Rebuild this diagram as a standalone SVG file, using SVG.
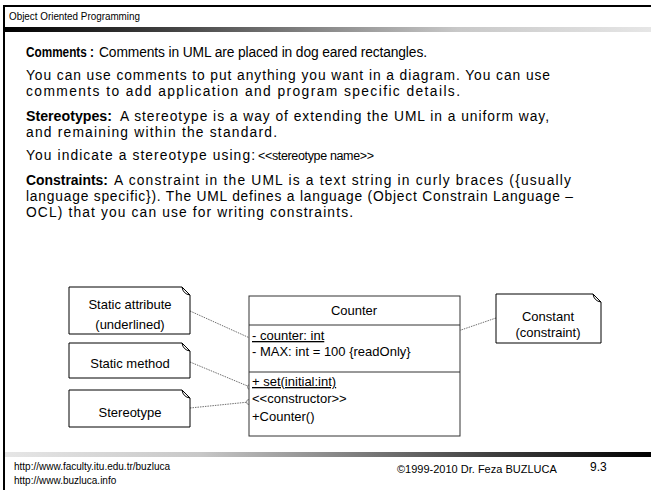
<svg xmlns="http://www.w3.org/2000/svg" width="651" height="490" viewBox="0 0 651 490">
  <defs>
    <linearGradient id="barTop" x1="0" y1="0" x2="1" y2="0">
      <stop offset="0" stop-color="#000000"/>
      <stop offset="0.25" stop-color="#404040"/>
      <stop offset="0.7" stop-color="#c8c8c8"/>
      <stop offset="1" stop-color="#e6e6e6"/>
    </linearGradient>
    <linearGradient id="barBottom" x1="0" y1="0" x2="1" y2="0">
      <stop offset="0" stop-color="#e6e6e6"/>
      <stop offset="0.3" stop-color="#c8c8c8"/>
      <stop offset="0.75" stop-color="#404040"/>
      <stop offset="1" stop-color="#000000"/>
    </linearGradient>
  </defs>
  <style>
    .body { font-family: "Comic Sans MS", "Liberation Sans", sans-serif; font-size: 13.8px; fill: #000; }
    .bold { font-weight: bold; }
    .sans { font-family: "Liberation Sans", Arial, sans-serif; fill: #000; }
    .uml { font-family: "Liberation Sans", Arial, sans-serif; font-size: 13px; fill: #000; }
    .note { fill: #ffffff; stroke: #000; stroke-width: 1; }
    .ear { fill: none; stroke: #000; stroke-width: 1; }
    .cls { fill: #ffffff; stroke: #333; stroke-width: 1; }
    .link { stroke: #707070; stroke-width: 1; stroke-dasharray: 1.5 1; fill: none; }
    .anchor { fill: #ffffff; stroke: #707070; stroke-width: 0.8; }
  </style>

  <rect x="0" y="0" width="651" height="490" fill="#ffffff"/>

  <!-- slide frame -->
  <rect x="4" y="5" width="647" height="2" fill="#000"/>
  <rect x="3" y="5" width="2" height="485" fill="#000"/>
  <rect x="5" y="27" width="646" height="5" fill="url(#barTop)"/>
  <rect x="5" y="452" width="646" height="5" fill="url(#barBottom)"/>
  <text class="sans" x="9" y="20" font-size="10.5" textLength="131" lengthAdjust="spacingAndGlyphs">Object Oriented Programming</text>

  <!-- slide text -->
  <text class="body bold" x="26" y="57" textLength="68" lengthAdjust="spacingAndGlyphs">Comments :</text>
  <text class="body" x="99" y="57" textLength="328" lengthAdjust="spacing">Comments in UML are placed in dog eared rectangles.</text>
  <text class="body" x="26" y="80" textLength="524" lengthAdjust="spacing">You can use comments to put anything you want in a diagram. You can use</text>
  <text class="body" x="26" y="96" textLength="434" lengthAdjust="spacing">comments to add application and program specific details.</text>

  <text class="body bold" x="26" y="121" textLength="86" lengthAdjust="spacingAndGlyphs">Stereotypes:</text>
  <text class="body" x="120" y="121" textLength="429" lengthAdjust="spacing">A stereotype is a way of extending the UML in a uniform way,</text>
  <text class="body" x="26" y="137" textLength="251" lengthAdjust="spacing">and remaining within the standard.</text>
  <text class="body" x="26" y="160" textLength="229" lengthAdjust="spacing">You indicate a stereotype using:</text>
  <text class="sans" x="258" y="160" font-size="12.5" textLength="116" lengthAdjust="spacing">&lt;&lt;stereotype name&gt;&gt;</text>

  <text class="body bold" x="26" y="185" textLength="82" lengthAdjust="spacingAndGlyphs">Constraints:</text>
  <text class="body" x="114" y="185" textLength="457" lengthAdjust="spacing">A constraint in the UML is a text string in curly braces ({usually</text>
  <text class="body" x="26" y="201" textLength="547" lengthAdjust="spacing">language specific}). The UML defines a language (Object Constrain Language –</text>
  <text class="body" x="26" y="217" textLength="327" lengthAdjust="spacing">OCL) that you can use for writing constraints.</text>

  <!-- connectors: note anchors -->
  <g id="connectors">
    <path class="link" d="M190,311 L252,339"/>
    <path class="link" d="M190,362 L250,387"/>
    <path class="link" d="M190,408 L249,402"/>
    <path class="link" d="M496,318 L426,342"/>
    <circle class="anchor" cx="252" cy="339" r="2.5"/>
    <circle class="anchor" cx="250" cy="387" r="2.5"/>
    <circle class="anchor" cx="249" cy="402" r="2.5"/>
    <circle class="anchor" cx="426" cy="342" r="2.5"/>
  </g>

  <!-- class Counter -->
  <g id="counter">
    <rect class="cls" x="249" y="296" width="211" height="140"/>
    <line x1="249" y1="325" x2="460" y2="325" stroke="#333"/>
    <line x1="249" y1="372" x2="460" y2="372" stroke="#333"/>
    <text class="uml" x="354" y="315" text-anchor="middle">Counter</text>
    <text class="uml" x="252" y="340" text-decoration="underline">- counter: int</text>
    <text class="uml" x="252" y="356">- MAX: int = 100 {readOnly}</text>
    <text class="uml" x="252" y="386" text-decoration="underline">+ set(initial:int)</text>
    <text class="uml" x="252" y="403">&lt;&lt;constructor&gt;&gt;</text>
    <text class="uml" x="252" y="421">+Counter()</text>
  </g>

  <!-- notes -->
  <g id="note-static-attribute">
    <path class="note" d="M69,287 H182 L190,295 V334 H69 Z"/>
    <path class="ear" d="M182,287 Q183,294 190,295"/>
    <text class="uml" x="130" y="309" text-anchor="middle">Static attribute</text>
    <text class="uml" x="130" y="329" text-anchor="middle">(underlined)</text>
  </g>
  <g id="note-static-method">
    <path class="note" d="M69,343 H182 L190,351 V378 H69 Z"/>
    <path class="ear" d="M182,343 Q183,350 190,351"/>
    <text class="uml" x="130" y="368" text-anchor="middle">Static method</text>
  </g>
  <g id="note-stereotype">
    <path class="note" d="M69,390 H182 L190,398 V427 H69 Z"/>
    <path class="ear" d="M182,390 Q183,397 190,398"/>
    <text class="uml" x="130" y="417" text-anchor="middle">Stereotype</text>
  </g>
  <g id="note-constant">
    <path class="note" d="M496,294 H593 L601,302 V343 H496 Z"/>
    <path class="ear" d="M593,294 Q594,301 601,302"/>
    <text class="uml" x="548" y="321" text-anchor="middle">Constant</text>
    <text class="uml" x="548" y="337" text-anchor="middle">(constraint)</text>
  </g>

  <!-- footer -->
  <text class="sans" x="14" y="470" font-size="10">http://www.faculty.itu.edu.tr/buzluca</text>
  <text class="sans" x="14" y="484" font-size="10">http://www.buzluca.info</text>
  <text class="sans" x="397" y="473" font-size="11">©1999-2010  Dr. Feza BUZLUCA</text>
  <text class="sans" x="590" y="471" font-size="12">9.3</text>
</svg>
